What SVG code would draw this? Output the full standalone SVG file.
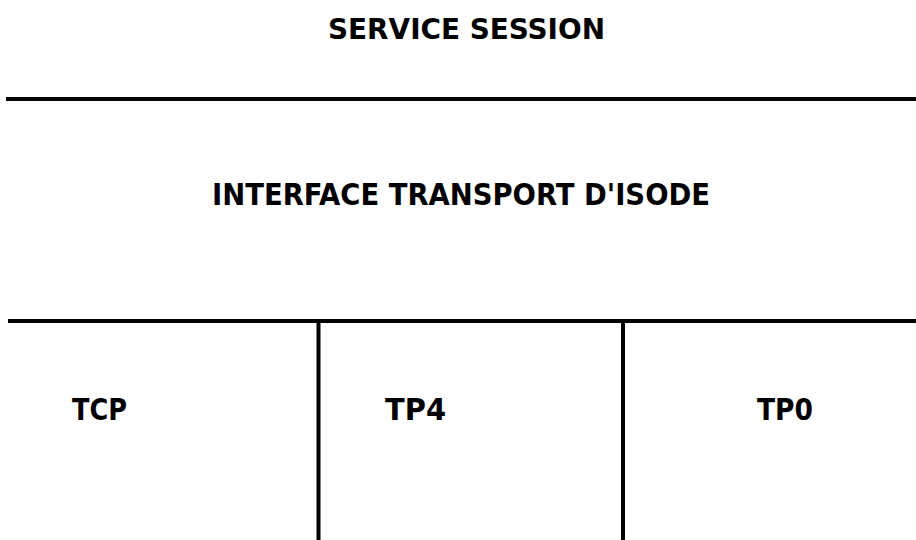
<svg xmlns="http://www.w3.org/2000/svg" width="916" height="540" viewBox="0 0 916 540">
<style>
.t{font-family:"DejaVu Sans Condensed","DejaVu Sans",sans-serif;font-stretch:condensed;font-weight:bold;fill:#000}
.l{stroke:#000;stroke-width:4;fill:none}
</style>
<rect width="916" height="540" fill="#fff"/>
<g id="connectors">
<line class="l" x1="6" y1="99" x2="916" y2="99"/>
<line class="l" x1="8" y1="321" x2="916" y2="321"/>
<line class="l" x1="318.5" y1="321" x2="318.5" y2="540"/>
<line class="l" x1="623" y1="321" x2="623" y2="540"/>
</g>
<g id="service-session"><text class="t" x="328" y="39" font-size="29" textLength="277" lengthAdjust="spacingAndGlyphs">SERVICE SESSION</text></g>
<g id="interface-transport"><text class="t" x="212" y="205" font-size="31" textLength="498" lengthAdjust="spacingAndGlyphs">INTERFACE TRANSPORT D'ISODE</text></g>
<g id="tcp"><text class="t" x="72" y="420" font-size="30" textLength="55" lengthAdjust="spacingAndGlyphs">TCP</text></g>
<g id="tp4"><text class="t" x="385" y="420" font-size="30" textLength="61" lengthAdjust="spacingAndGlyphs">TP4</text></g>
<g id="tp0"><text class="t" x="757" y="420" font-size="30" textLength="56" lengthAdjust="spacingAndGlyphs">TP0</text></g>
</svg>
